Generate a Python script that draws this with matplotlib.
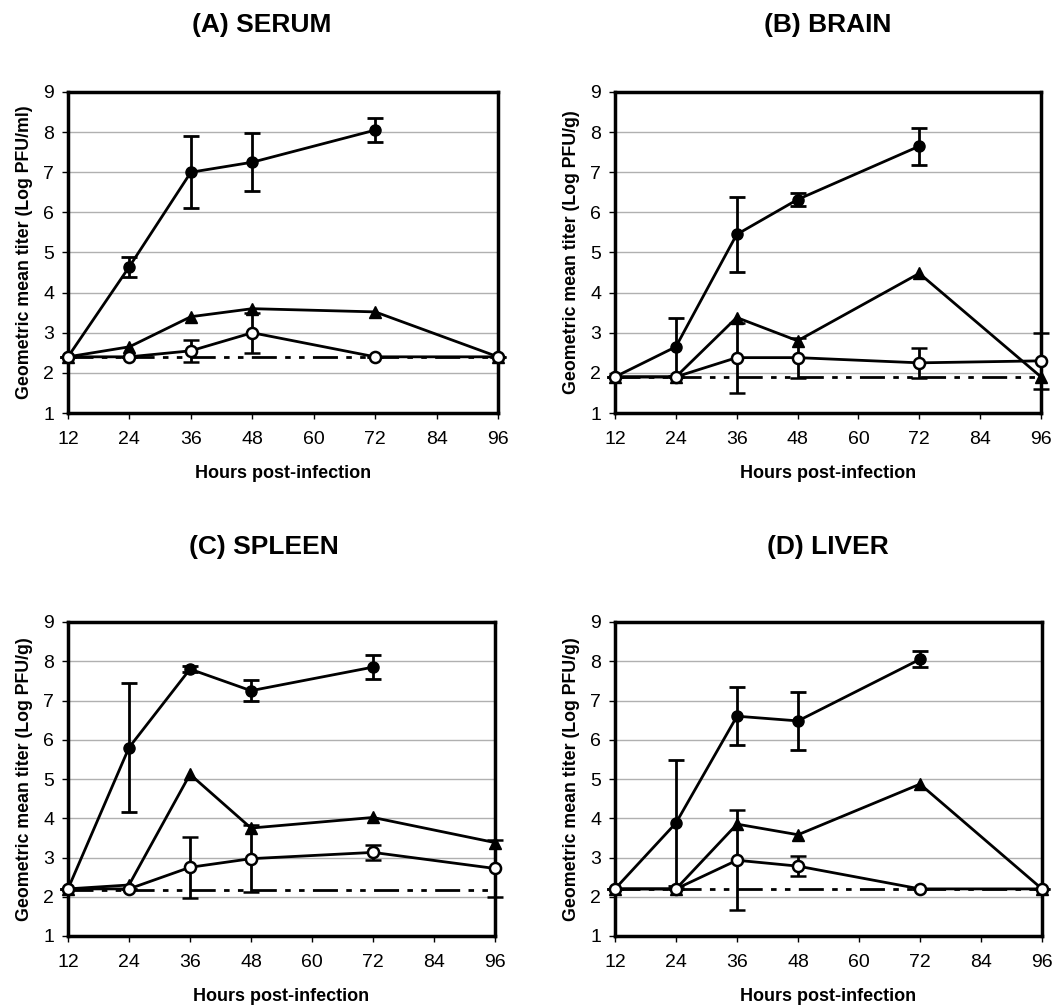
import numpy as np
import matplotlib.pyplot as plt

plt.rcParams['font.family'] = ['Liberation Sans', 'DejaVu Sans']

hours = [12, 24, 36, 48, 72, 96]

# (A) serum
serum_filled = [2.4, 4.65, 7.0, 7.25, 8.05]
serum_filled_err = [0, 0.25, 0.9, 0.72, 0.3]
serum_tri = [2.4, 2.65, 3.4, 3.6, 3.52, 2.4]
serum_open = [2.4, 2.4, 2.55, 3.0, 2.4, 2.4]
serum_open_err = [0, 0, 0.27, 0.5, 0, 0]
serum_limit = 2.4

# (B) brain
brain_filled = [1.9, 2.65, 5.45, 6.32, 7.65]
brain_filled_err = [0, 0.73, 0.93, 0.17, 0.46]
brain_tri = [1.9, 1.9, 3.38, 2.8, 4.48, 1.9]
brain_open = [1.9, 1.9, 2.38, 2.38, 2.25, 2.3]
brain_open_err = [0, 0, 0.87, 0.5, 0.38, 0.7]
brain_limit = 1.9

# (C) spleen
spleen_filled = [2.2, 5.8, 7.8, 7.25, 7.85]
spleen_filled_err = [0, 1.65, 0.08, 0.27, 0.3]
spleen_tri = [2.2, 2.3, 5.12, 3.75, 4.02, 3.38]
spleen_open = [2.2, 2.2, 2.75, 2.97, 3.13, 2.72]
spleen_open_err = [0, 0, 0.78, 0.85, 0.2, 0.72]
spleen_limit = 2.18

# (D) liver
liver_filled = [2.2, 3.88, 6.6, 6.48, 8.05]
liver_filled_err = [0, 1.6, 0.74, 0.73, 0.2]
liver_tri = [2.2, 2.2, 3.85, 3.58, 4.87, 2.2]
liver_open = [2.2, 2.2, 2.93, 2.78, 2.2, 2.2]
liver_open_err = [0, 0, 1.28, 0.25, 0, 0]
liver_limit = 2.2

panels = [
    ('(A) SERUM', 'Geometric mean titer (Log PFU/ml)', serum_filled, serum_filled_err,
     serum_tri, serum_open, serum_open_err, serum_limit),
    ('(B) BRAIN', 'Geometric mean titer (Log PFU/g)', brain_filled, brain_filled_err,
     brain_tri, brain_open, brain_open_err, brain_limit),
    ('(C) SPLEEN', 'Geometric mean titer (Log PFU/g)', spleen_filled, spleen_filled_err,
     spleen_tri, spleen_open, spleen_open_err, spleen_limit),
    ('(D) LIVER', 'Geometric mean titer (Log PFU/g)', liver_filled, liver_filled_err,
     liver_tri, liver_open, liver_open_err, liver_limit),
]

W, H = 1058, 1005
fig = plt.figure(figsize=(W / 100, H / 100), dpi=100)

# axes boxes in pixels: left, top, right, bottom
boxes = [(68, 92, 498, 413), (615, 92, 1041, 413),
         (68, 622, 495, 936), (615, 622, 1042, 936)]
# title centres in pixels
title_pos = [(262, 25), (828, 25), (264, 547), (828, 547)]

for (title, ylab, filled, ferr, tri, opn, oerr, limit), (l, t, r, b), (tx, ty) in zip(panels, boxes, title_pos):
    ax = fig.add_axes([l / W, 1 - b / H, (r - l) / W, (b - t) / H])
    ax.set_xlim(12, 96)
    ax.set_ylim(1, 9)
    ax.set_xticks(range(12, 97, 12))
    ax.set_yticks(range(1, 10))
    ax.yaxis.grid(True, color='#b0b0b0', lw=1.0)
    ax.set_axisbelow(True)
    for s in ax.spines.values():
        s.set_linewidth(2.5)
        s.set_color('black')
    ax.tick_params(labelsize=14, length=4, width=1, pad=6, color='black')
    ax.tick_params(axis='x', pad=9)

    # detection limit
    ax.plot([12, 96], [limit, limit], color='black', lw=2,
            dashes=(9, 3, 2, 3, 2, 3), zorder=2)

    ax.errorbar(hours[:len(filled)], filled, yerr=ferr, color='black', lw=2,
                marker='o', ms=8, mfc='black', mec='black', capsize=6,
                capthick=2, elinewidth=2, zorder=3, clip_on=False)
    ax.plot(hours, tri, color='black', lw=2, marker='^', ms=9,
            mfc='black', zorder=4, clip_on=False)
    ax.errorbar(hours, opn, yerr=oerr, color='black', lw=2, marker='o', ms=8,
                mfc='white', mec='black', mew=1.8, capsize=6, capthick=2,
                elinewidth=2, zorder=5, clip_on=False)

    fig.text(tx / W, 1 - ty / H, title, fontsize=19, fontweight='bold',
             ha='center', va='center')
    ax.set_xlabel('Hours post-infection', fontsize=13, fontweight='bold', labelpad=12)
    ax.set_ylabel(ylab, fontsize=12.8, fontweight='bold', labelpad=7)

fig.savefig('out.png', dpi=100)
